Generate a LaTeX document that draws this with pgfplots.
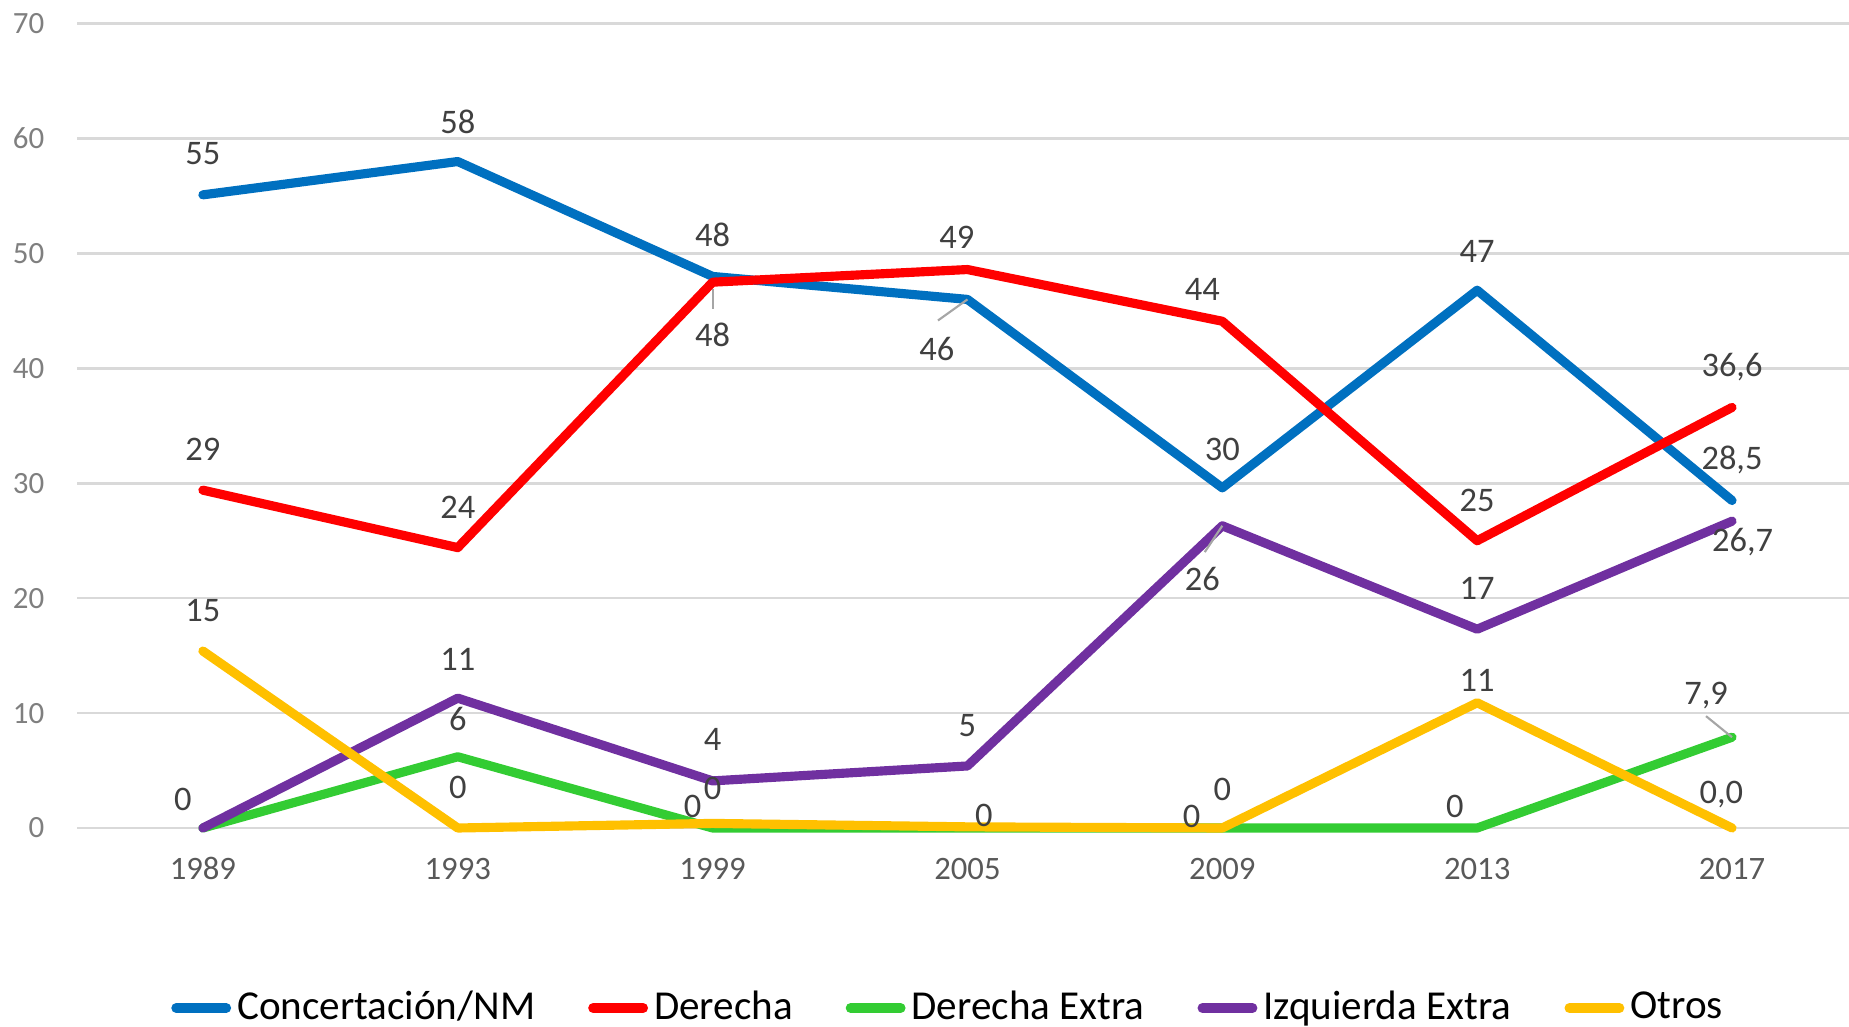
\documentclass[border=0pt]{standalone}
\usepackage{pgfplots}
\pgfplotsset{compat=1.18}
\usepackage{fontspec}
\setmainfont{Carlito}
\definecolor{cBlue}{HTML}{0070C0}
\definecolor{cRed}{HTML}{FF0000}
\definecolor{cGreen}{HTML}{33CC33}
\definecolor{cPurple}{HTML}{7030A0}
\definecolor{cYellow}{HTML}{FFC000}
\definecolor{gridgray}{HTML}{D9D9D9}
\definecolor{ytcol}{HTML}{7F7F7F}
\definecolor{xtcol}{HTML}{595959}
\definecolor{labcol}{HTML}{404040}
\definecolor{leadcol}{HTML}{A6A6A6}
\pgfplotsset{
  lbl/.style={
    nodes near coords, point meta=explicit symbolic,
    visualization depends on={value \thisrow{dx} \as \dx},
    visualization depends on={value \thisrow{dy} \as \dy},
    every node near coord/.append style={anchor=center, inner sep=0pt,
      font=\fontsize{9.8}{11}\selectfont, text=labcol,
      xshift={\dx*0.3355pt}, yshift={\dy*0.3355pt}},
  },
  ser/.style={#1, line width=2.6pt, line cap=round, line join=round, mark=none},
}
\begin{document}
\begin{tikzpicture}
\path[use as bounding box] (0,0) rectangle (18.49cm,10.27cm);
\begin{axis}[
  at={(0.77cm,1.99cm)}, anchor=south west,
  scale only axis, width=17.72cm, height=8.044cm,
  xmin=-0.494, xmax=6.459, ymin=0, ymax=70,
  xtick={0,1,2,3,4,5,6},
  xticklabels={1989,1993,1999,2005,2009,2013,2017},
  ytick={0,10,...,70},
  axis line style={draw=none}, major tick length=0pt,
  ymajorgrids, grid style={draw=gridgray, line width=0.7pt},
  clip=false,
  /pgf/number format/assume math mode=true,
  yticklabel style={font=\fontsize{8.8}{10}\selectfont, text=ytcol, inner sep=0pt, anchor=east, xshift=-0.32cm},
  xticklabel style={font=\fontsize{9.3}{11}\selectfont, text=xtcol, inner sep=0pt, anchor=base, yshift=-0.519cm},
  legend style={at={(0.491,-0.2238)}, anchor=center, draw=none, fill=none,
    legend columns=5, font=\fontsize{11.7}{14}\selectfont, text=black,
    inner sep=0pt, nodes={inner sep=0pt},
    /tikz/every odd column/.append style={column sep=0.06cm},
    /tikz/every even column/.append style={column sep=0.53cm}},
  legend image code/.code={\draw[#1, line width=2.8pt, line cap=round] (0cm,0cm) -- (0.5cm,0cm);},
]
\addplot[ser=cBlue, lbl] table[x=x, y=y, meta=lab] {
x y lab dx dy
0 55.1 55 0 35
1 58.0 58 0 34
2 48.0 48 0 35
3 46.0 46 -26 -42
4 29.6 30 0 33
5 46.8 47 0 33
6 28.5 28,5 0 34
};
\addlegendentry{Concertación/NM}
\addplot[ser=cRed, lbl] table[x=x, y=y, meta=lab] {
x y lab dx dy
0 29.4 29 0 35
1 24.4 24 0 34
2 47.5 48 0 -45
3 48.6 49 -9 27
4 44.1 44 -17 27
5 25.0 25 0 34
6 36.6 36,6 0 34
};
\addlegendentry{Derecha}
\addplot[ser=cGreen, lbl] table[x=x, y=y, meta=lab] {
x y lab dx dy
0 0 0 -17 24
1 6.2 6 0 32
2 0 0 -17 18
3 0 {} 0 0
4 0 0 -26 10
5 0 0 -19 18
6 7.9 7,9 -22 35
};
\addlegendentry{Derecha Extra}
\addplot[ser=cPurple, lbl] table[x=x, y=y, meta=lab] {
x y lab dx dy
0 0 {} 0 0
1 11.3 11 0 33
2 4.1 4 0 35
3 5.4 5 0 34
4 26.3 26 -17 -45
5 17.3 17 0 35
6 26.7 26,7 9 -18
};
\addlegendentry{Izquierda Extra}
\addplot[ser=cYellow, lbl] table[x=x, y=y, meta=lab] {
x y lab dx dy
0 15.4 15 0 34
1 0 0 0 34
2 0.4 0 0 30
3 0.1 0 14 10
4 0 0 0 33
5 10.9 11 0 19
6 0 0,0 -9 28
};
\addlegendentry{Otros}
% leader lines
\draw[leadcol, line width=0.6pt] ([yshift=-2pt]axis cs:2,47.5) -- ([yshift=-7.7pt]axis cs:2,47.5);
\draw[leadcol, line width=0.6pt] (axis cs:3,46) -- ([xshift=-8.4pt, yshift=-6pt]axis cs:3,46);
\draw[leadcol, line width=0.6pt] (axis cs:4,26.3) -- ([xshift=-5pt, yshift=-7.5pt]axis cs:4,26.3);
\draw[leadcol, line width=0.6pt] (axis cs:6,7.9) -- ([xshift=-7.4pt, yshift=6pt]axis cs:6,7.9);
\end{axis}
\end{tikzpicture}
\end{document}
